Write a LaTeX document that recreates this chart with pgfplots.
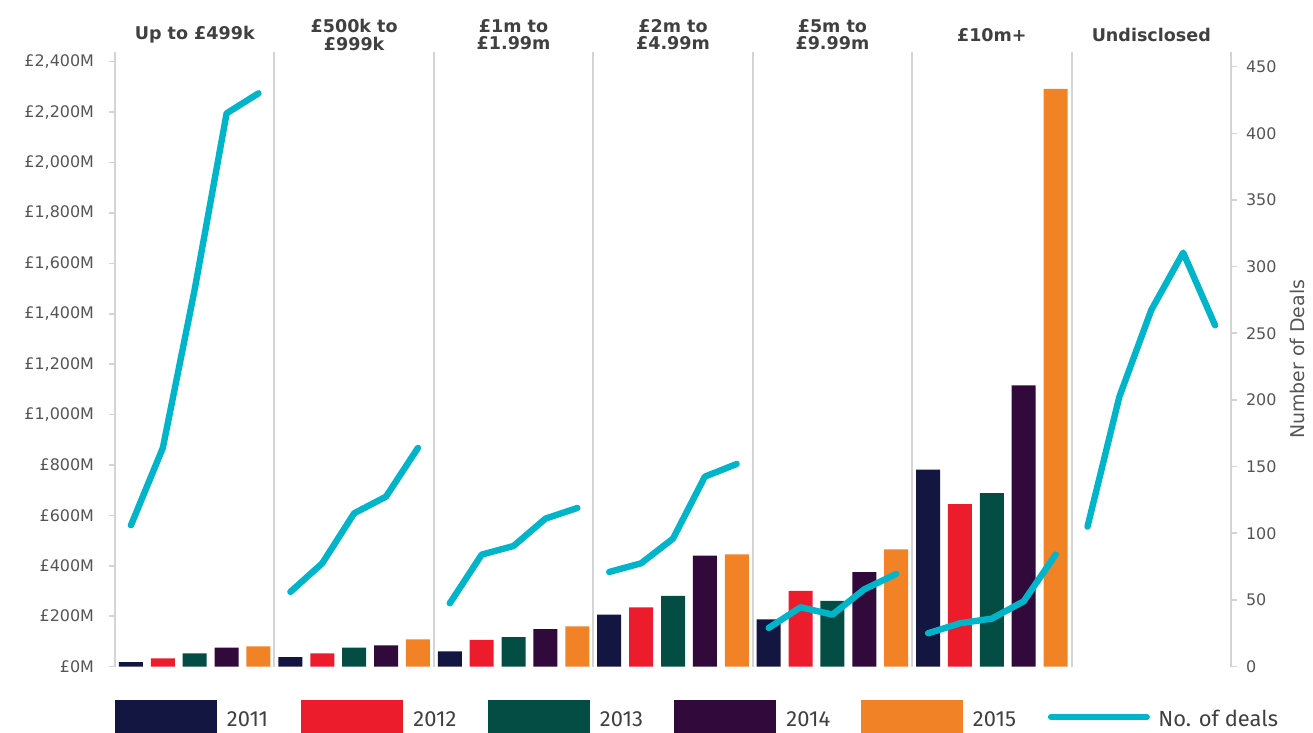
\documentclass[border=0pt]{standalone}
\usepackage{fontspec}
\setmainfont{DejaVu Sans}
\newfontfamily\legfont{Fira Sans}
\usepackage{pgfplots}
\pgfplotsset{compat=1.18}
\definecolor{cA}{HTML}{121640}
\definecolor{cB}{HTML}{EC1C2D}
\definecolor{cC}{HTML}{034D44}
\definecolor{cD}{HTML}{31093A}
\definecolor{cE}{HTML}{F28226}
\definecolor{cL}{HTML}{00B5C9}
\definecolor{axgray}{HTML}{D4D4D4}
\definecolor{labgray}{HTML}{555555}
\definecolor{grpgray}{HTML}{404040}
\pgfplotsset{
  common/.style={
    at={(0,0)}, anchor=south west,
    scale only axis, width=558bp, height=307.3bp,
    xmin=0, xmax=35, ymin=0,
    tick align=outside, major tick length=3bp,
    y axis line style={draw=axgray, line width=1bp},
    ytick style={draw=axgray, line width=0.8bp},
    tick label style={font=\fontsize{8}{9.6}\selectfont, text=labgray},
    /pgf/number format/assume math mode=true,
    /pgf/number format/1000 sep={,},
    scaled y ticks=false,
  },
}
\begin{document}
\begin{tikzpicture}
\useasboundingbox (-57.5bp,-33.2bp) rectangle (599bp,333.3bp);
\begin{axis}[common,
  ymax=2438.5,
  clip=false,
  axis lines*=left,
  x axis line style={draw=none},
  xtick={5,10,15,20,25,30}, xticklabels={},
  xtick style={draw=none},
  xmajorgrids, grid style={draw=axgray, line width=1bp},
  ytick={0,200,...,2400},
  yticklabel={£\pgfmathprintnumber{\tick}M},
  yticklabel style={xshift=-4bp},
  legend columns=6,
  legend style={at={(0,0)}, anchor=north west, yshift=-16.7bp,
    draw=none, fill=none, inner sep=0pt, outer sep=0pt,
    column sep=0pt,
    nodes={inner sep=0pt, anchor=base west, font=\legfont\fontsize{11}{13}\selectfont, text=grpgray}},
]
\addplot[ybar, bar width=12bp, bar shift=0pt, fill=cA, draw=none,
  legend image code/.code={\fill[cA] (0bp,-3.35bp) rectangle (51bp,13.15bp); \path (56bp,0bp);}]
  coordinates {(0.5,18) (5.5,38) (10.5,60) (15.5,206) (20.5,187) (25.5,782)};
\addlegendentry{\makebox[37.25bp][l]{2011}}
\addplot[ybar, bar width=12bp, bar shift=0pt, fill=cB, draw=none,
  legend image code/.code={\fill[cB] (0bp,-3.35bp) rectangle (51bp,13.15bp); \path (56bp,0bp);}]
  coordinates {(1.5,33) (6.5,52) (11.5,106) (16.5,235) (21.5,300) (26.5,645)};
\addlegendentry{\makebox[37.25bp][l]{2012}}
\addplot[ybar, bar width=12bp, bar shift=0pt, fill=cC, draw=none,
  legend image code/.code={\fill[cC] (0bp,-3.35bp) rectangle (51bp,13.15bp); \path (56bp,0bp);}]
  coordinates {(2.5,52) (7.5,75) (12.5,117) (17.5,281) (22.5,261) (27.5,688)};
\addlegendentry{\makebox[37.25bp][l]{2013}}
\addplot[ybar, bar width=12bp, bar shift=0pt, fill=cD, draw=none,
  legend image code/.code={\fill[cD] (0bp,-3.35bp) rectangle (51bp,13.15bp); \path (56bp,0bp);}]
  coordinates {(3.5,75) (8.5,84) (13.5,149) (18.5,440) (23.5,375) (28.5,1116)};
\addlegendentry{\makebox[37.25bp][l]{2014}}
\addplot[ybar, bar width=12bp, bar shift=0pt, fill=cE, draw=none,
  legend image code/.code={\fill[cE] (0bp,-3.35bp) rectangle (51bp,13.15bp); \path (56bp,0bp);}]
  coordinates {(4.5,80) (9.5,108) (14.5,160) (19.5,445) (24.5,465) (29.5,2292)};
\addlegendentry{\makebox[37.25bp][l]{2015}}
\addlegendimage{legend image code/.code={\draw[cL, line width=3bp, line cap=round] (1.5bp,4.6bp) -- (49.5bp,4.6bp); \path (0bp,0bp) (55bp,0bp);}}
\addlegendentry{No. of deals}
\begin{scope}[every node/.style={font=\bfseries\fontsize{8.8}{8.6}\selectfont, text=grpgray, align=center}]
\node[yshift=8.5bp] at (axis cs:2.5,2438.5) {Up to £499k};
\node[yshift=8.5bp] at (axis cs:7.5,2438.5) {£500k to\\£999k};
\node[yshift=8.5bp] at (axis cs:12.5,2438.5) {£1m to\\£1.99m};
\node[yshift=8.5bp] at (axis cs:17.5,2438.5) {£2m to\\£4.99m};
\node[yshift=8.5bp] at (axis cs:22.5,2438.5) {£5m to\\£9.99m};
\node[yshift=8.5bp] at (axis cs:27.5,2438.5) {£10m+};
\node[yshift=8.5bp] at (axis cs:32.5,2438.5) {Undisclosed};
\end{scope}
\end{axis}
\begin{axis}[common,
  ymax=461,
  axis y line*=right,
  axis x line=none,
  ytick={0,50,...,450},
  yticklabel style={xshift=1bp},
  ylabel={Number of Deals},
  ylabel style={font=\fontsize{9.5}{11}\selectfont, text=labgray},
  unbounded coords=jump,
]
\addplot[draw=cL, line width=3.2bp, line cap=round, line join=round, mark=none]
  coordinates {
  (0.5,106) (1.5,164) (2.5,283) (3.5,415) (4.5,430) (5,nan)
  (5.5,56) (6.5,77.5) (7.5,115) (8.5,127.5) (9.5,164) (10,nan)
  (10.5,47.5) (11.5,84) (12.5,90.5) (13.5,111) (14.5,119) (15,nan)
  (15.5,71) (16.5,77.5) (17.5,96) (18.5,142.5) (19.5,152) (20,nan)
  (20.5,29) (21.5,44.5) (22.5,39) (23.5,58) (24.5,69.5) (25,nan)
  (25.5,25) (26.5,32.5) (27.5,36) (28.5,49) (29.5,84) (30,nan)
  (30.5,105) (31.5,202.5) (32.5,267.5) (33.5,310.5) (34.5,256)
  };
\end{axis}
\end{tikzpicture}
\end{document}
